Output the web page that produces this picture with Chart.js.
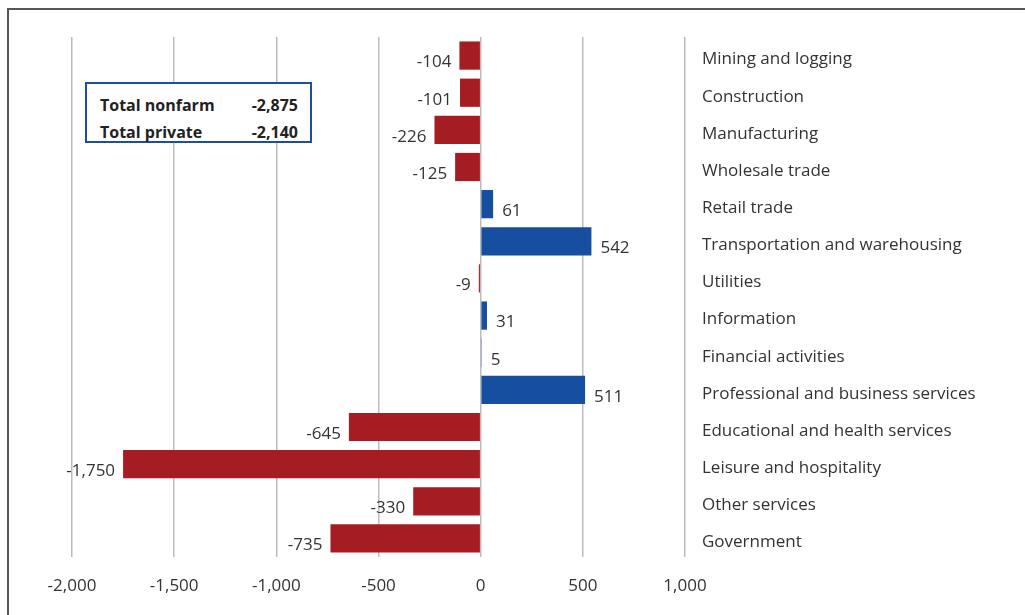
<!DOCTYPE html>
<html lang="en">
<head>
    <meta charset="UTF-8">
    <title>Employment change by industry</title>
    <script src="https://cdn.jsdelivr.net/npm/chart.js"></script>
    <style>
        html, body { margin: 0; padding: 0; background: #fff; }
        #wrap {
            position: relative;
            width: 1025px;
            height: 615px;
            overflow: hidden;
        }
        #frame {
            position: absolute;
            left: 7px; top: 8px;
            width: 1030px; height: 620px;
            border-left: 2px solid #555;
            border-top: 2px solid #555;
        }
        #totals {
            position: absolute;
            left: 85px; top: 82px;
            width: 223px; height: 57px;
            border: 2px solid #1a4f9c;
            background: #fff;
            font-family: "Open Sans", sans-serif;
            font-weight: bold;
            font-size: 16px;
            color: #222;
        }
        #totals .row { position: absolute; left: 13px; right: 12px; }
        #totals .val { position: absolute; right: 0; top: 0; }
    </style>
</head>
<body>
<div id="wrap">
    <div id="frame"></div>
    <canvas id="jobs-chart" width="1025" height="615"></canvas>
    <div id="totals"></div>
</div>

<script>
    // industries, top to bottom
    const industries = [
        'Mining and logging',
        'Construction',
        'Manufacturing',
        'Wholesale trade',
        'Retail trade',
        'Transportation and warehousing',
        'Utilities',
        'Information',
        'Financial activities',
        'Professional and business services',
        'Educational and health services',
        'Leisure and hospitality',
        'Other services',
        'Government'
    ];
    // change in jobs, thousands
    const jobChange = [-104, -101, -226, -125, 61, 542, -9, 31, 5, 511, -645, -1750, -330, -735];
    const xTicks = [-2000, -1500, -1000, -500, 0, 500, 1000];
    const totalLabels = ['Total nonfarm', 'Total private'];
    const totalValues = [-2875, -2140];

    const RED = '#a61c23';
    const BLUE = '#164ea0';
    const FONT = '"Open Sans", sans-serif';
    const fmt = v => v.toLocaleString('en-US');

    // totals box
    const box = document.getElementById('totals');
    totalLabels.forEach((lbl, i) => {
        const row = document.createElement('div');
        row.className = 'row';
        row.style.top = (10 + i * 27) + 'px';
        row.innerHTML = lbl + '<span class="val">' + fmt(totalValues[i]) + '</span>';
        box.appendChild(row);
    });

    // value labels next to bar ends
    const barValues = {
        id: 'barValues',
        afterDatasetsDraw(chart) {
            const ctx = chart.ctx;
            const meta = chart.getDatasetMeta(0);
            ctx.save();
            ctx.font = '17px ' + FONT;
            ctx.fillStyle = '#333';
            ctx.textBaseline = 'middle';
            meta.data.forEach((bar, i) => {
                const v = jobChange[i];
                if (v >= 0) {
                    ctx.textAlign = 'left';
                    ctx.fillText(fmt(v), bar.x + 9, bar.y + 7);
                } else {
                    ctx.textAlign = 'right';
                    ctx.fillText(fmt(v), bar.x - 8, bar.y + 7);
                }
            });
            ctx.restore();
        }
    };

    const ctx = document.getElementById('jobs-chart').getContext('2d');
    new Chart(ctx, {
        type: 'bar',
        data: {
            labels: industries,
            datasets: [{
                data: jobChange,
                backgroundColor: jobChange.map(v => v < 0 ? RED : BLUE),
                categoryPercentage: 1,
                barPercentage: 0.76
            }]
        },
        options: {
            indexAxis: 'y',
            responsive: false,
            animation: false,
            layout: { padding: { left: 72, top: 37, right: 0, bottom: 0 } },
            plugins: {
                legend: { display: false },
                tooltip: { enabled: false }
            },
            scales: {
                x: {
                    min: -2000,
                    max: 1000,
                    afterBuildTicks: s => { s.ticks = xTicks.map(v => ({ value: v })); },
                    afterFit: s => { s.height = 58; },
                    grid: { color: '#bcbcbc', lineWidth: 1.5, drawTicks: false },
                    border: { display: false },
                    ticks: {
                        padding: 19,
                        color: '#333',
                        font: { family: FONT, size: 17 },
                        callback: v => fmt(v)
                    }
                },
                y: {
                    position: 'right',
                    afterFit: s => { s.width = 340; },
                    grid: { display: false },
                    border: { display: false },
                    ticks: {
                        padding: 9,
                        labelOffset: 4,
                        color: '#333',
                        font: { family: FONT, size: 17 }
                    }
                }
            }
        },
        plugins: [barValues]
    });
</script>
</body>
</html>
